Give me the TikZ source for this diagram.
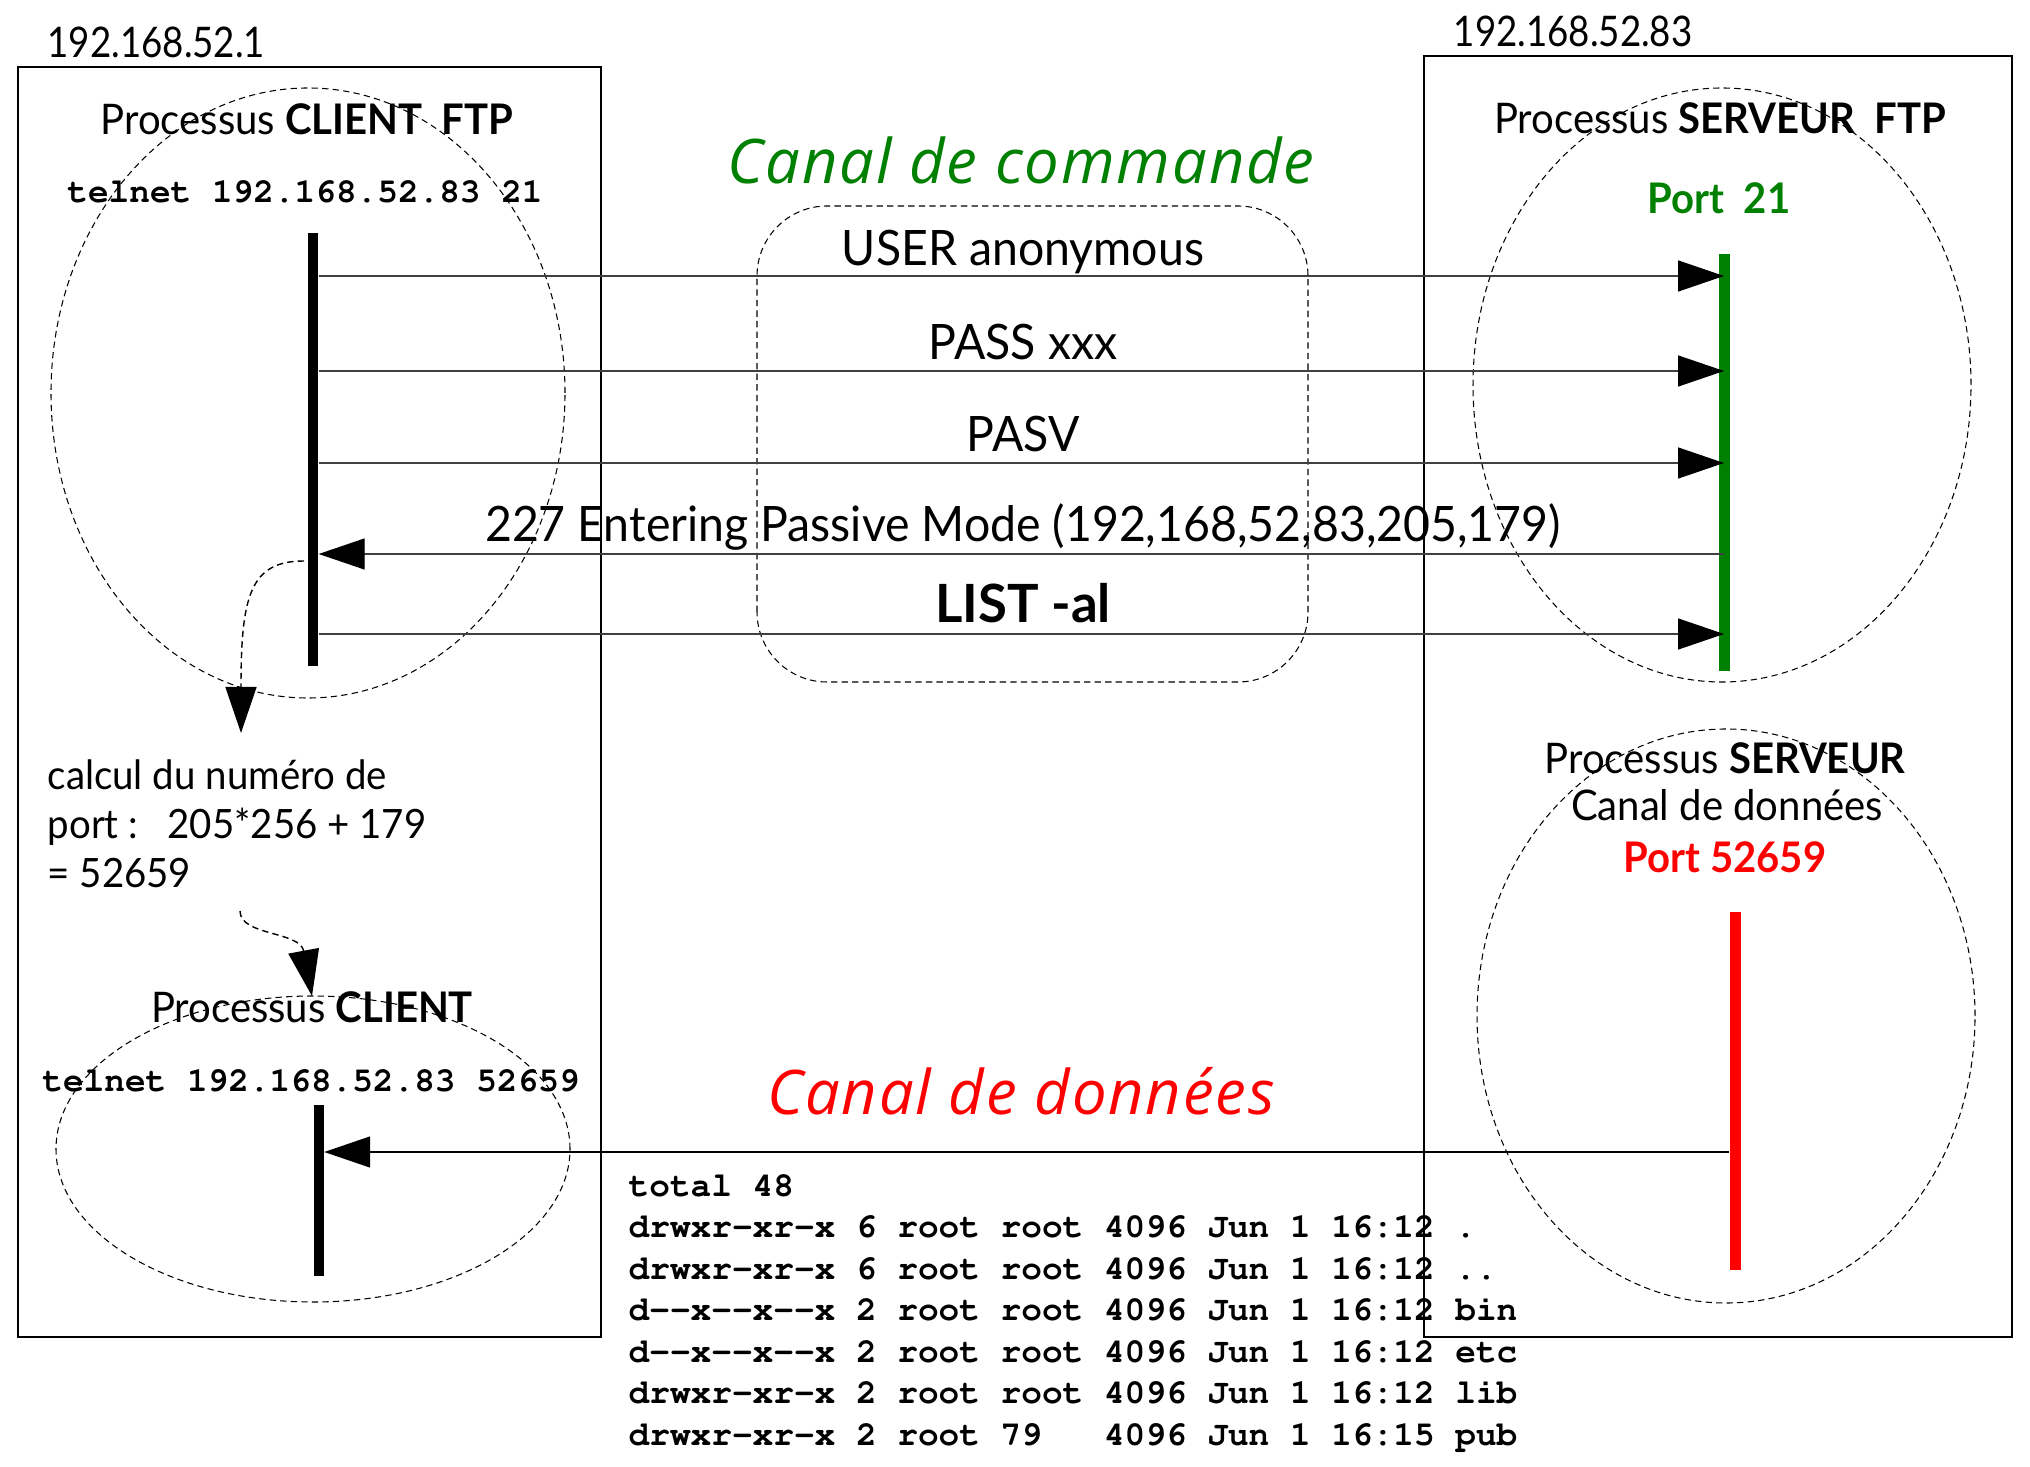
\documentclass[tikz,border=0pt]{standalone}
\usepackage[T1]{fontenc}
\usepackage{fontspec}
\setmainfont[FakeStretch=0.95]{Lato}
\newfontfamily\ipfont[FakeStretch=0.87]{Lato}
\newfontfamily\widefont{Lato}
\newfontfamily\titlefont[LetterSpace=3]{Open Sans}
\usepackage{xcolor}
\usepackage{tikz}
\usetikzlibrary{arrows.meta, positioning, calc}

\newcommand{\courb}{\fontencoding{T1}\fontfamily{pcr}\fontseries{b}\fontsize{9.8}{11.8}\selectfont}

\begin{document}
\begin{tikzpicture}[
            lbl/.style={font=\fontsize{12}{13.9}\selectfont, inner sep=0pt},
            msg/.style={font=\fontsize{13.9}{16}\selectfont, inner sep=0pt, anchor=base},
            cmdline/.style={font=\courb, inner sep=0pt},
            titre/.style={font=\titlefont\itshape\fontsize{17.5}{21}\selectfont, inner sep=0pt},
            zone/.style={draw, dash pattern=on 1.8pt off 1.2pt, line width=0.3pt},
            bar/.style={fill, draw=none, inner sep=0pt, minimum width=0.1cm},
            arr/.style={-{Triangle[length=0.46cm, width=0.31cm, color=black]}, line width=0.4pt},
        ]
        \useasboundingbox (0, 0) rectangle (20.30, 14.66);
        % the two hosts
        \node[lbl, anchor=base west, font=\ipfont\fontsize{12}{13.9}\selectfont] (ipcli) at (0.47, 14.08) {192.168.52.1};
        \node[lbl, anchor=base west, font=\ipfont\fontsize{12}{13.9}\selectfont] (ipsrv) at (14.53, 14.19) {192.168.52.83};
        \draw[line width=0.4pt] (0.18, 1.29) rectangle (6.01, 13.99);
        \draw[line width=0.4pt] (14.24, 1.29) rectangle (20.12, 14.10);
        % process zones
        \draw[zone] (3.08, 10.73) ellipse [x radius=2.57, y radius=3.05];
        \draw[zone] (17.22, 10.81) ellipse [x radius=2.49, y radius=2.97];
        \draw[zone] (3.13, 3.17) ellipse [x radius=2.57, y radius=1.53];
        \draw[zone] (17.26, 4.50) ellipse [x radius=2.49, y radius=2.87];
        \draw[zone, rounded corners=0.7cm] (7.57, 7.84) rectangle (13.08, 12.60);
        % titles
        \node[titre, text=green!50!black] (titcmd) at (10.21, 13.06) {Canal de commande};
        \node[titre, text=red] (titdat) at (10.21, 3.75) {Canal de données};
        % client side
        \node[lbl, anchor=base] (pftp) at (3.07, 13.31) {Processus \textbf{CLIENT\ \ FTP}};
        \node[cmdline, anchor=base] (tel1) at (3.05, 12.63) {telnet 192.168.52.83 21};
        \node[bar, minimum height=4.33cm] (cli) at (3.13, 10.165) {};
        \node[lbl, anchor=north west, align=left, font=\fontsize{11.5}{13.9}\selectfont] (calc) at (0.47, 7.07)
            {calcul du numéro de\\port :~~~205*256 + 179\\= 52659};
        \node[lbl, anchor=base] (pcli) at (3.12, 4.44) {Processus \textbf{CLIENT}};
        \node[cmdline, anchor=base] (tel2) at (3.11, 3.75) {telnet 192.168.52.83 52659};
        \node[bar, minimum height=1.71cm] (clidat) at (3.185, 2.76) {};
        % server side
        \node[lbl, anchor=base] (psrv) at (17.20, 13.32) {Processus \textbf{SERVEUR\ \ FTP}};
        \node[lbl, anchor=base, text=green!50!black, font=\fontsize{12}{13.9}\selectfont\bfseries] (p21) at (17.19, 12.52) {Port\ \ 21};
        \node[bar, fill=green!50!black, minimum width=0.11cm, minimum height=4.17cm] (srv) at (17.24, 10.035) {};
        \node[lbl, anchor=base] (pdat) at (17.25, 6.93) {Processus \textbf{SERVEUR}};
        \node[lbl, anchor=base] (cdat) at (17.27, 6.45) {Canal de données};
        \node[lbl, anchor=base, text=red, font=\fontsize{12}{13.9}\selectfont\bfseries] (p52659) at (17.25, 5.94) {Port 52659};
        \node[bar, fill=red, minimum width=0.11cm, minimum height=3.58cm] (srvdat) at (17.35, 3.75) {};
        % messages on the command channel
        \coordinate (m1) at (10.23, 11.90);
        \coordinate (m2) at (10.23, 10.95);
        \coordinate (m3) at (10.23, 10.03);
        \coordinate (m4) at (10.23, 9.12);
        \coordinate (m5) at (10.23, 8.32);
        \node[msg] (user) at (10.23, 12.00) {USER anonymous};
        \node[msg] (pass) at (10.23, 11.06) {PASS xxx};
        \node[msg] (pasv) at (10.23, 10.14) {PASV};
        \node[msg] (rep) at (10.23, 9.24) {227 Entering Passive Mode (192,168,52,83,205,179)};
        \node[msg, font=\widefont\fontsize{15}{17}\selectfont\bfseries] (list) at (10.23, 8.43) {LIST -al};
        \draw[arr, black!75] (cli.east |- m1) -- (srv.center |- m1);
        \draw[arr, black!75] (cli.east |- m2) -- (srv.center |- m2);
        \draw[arr, black!75] (cli.east |- m3) -- (srv.center |- m3);
        \draw[arr, black!75] (srv.center |- m4) -- (cli.east |- m4);
        \draw[arr, black!75] (cli.east |- m5) -- (srv.center |- m5);
        % port computation
        \coordinate (c1) at (3.04, 9.05);
        \coordinate (c2) at (2.41, 7.33);
        \coordinate (c3) at (2.40, 5.55);
        \coordinate (c4) at (3.12, 4.70);
        \draw[zone, arr] (c1) .. controls (2.50, 9.05) and (2.41, 8.70) .. (c2);
        \draw[zone, arr] (c3) .. controls (2.40, 5.30) and (3.00, 5.35) .. (c4);
        % data channel
        \coordinate (d1) at (10.23, 3.14);
        \draw[arr] (srvdat.west |- d1) -- (clidat.east |- d1);
        \node[cmdline, anchor=north west, align=left] (liste) at (6.28, 2.92)
            {total 48\\
             drwxr-xr-x 6 root root 4096 Jun 1 16:12 .\\
             drwxr-xr-x 6 root root 4096 Jun 1 16:12 ..\\
             d-{}-x-{}-x-{}-x 2 root root 4096 Jun 1 16:12 bin\\
             d-{}-x-{}-x-{}-x 2 root root 4096 Jun 1 16:12 etc\\
             drwxr-xr-x 2 root root 4096 Jun 1 16:12 lib\\
             drwxr-xr-x 2 root 79\phantom{oo} 4096 Jun 1 16:15 pub};
    \end{tikzpicture}
\end{document}
